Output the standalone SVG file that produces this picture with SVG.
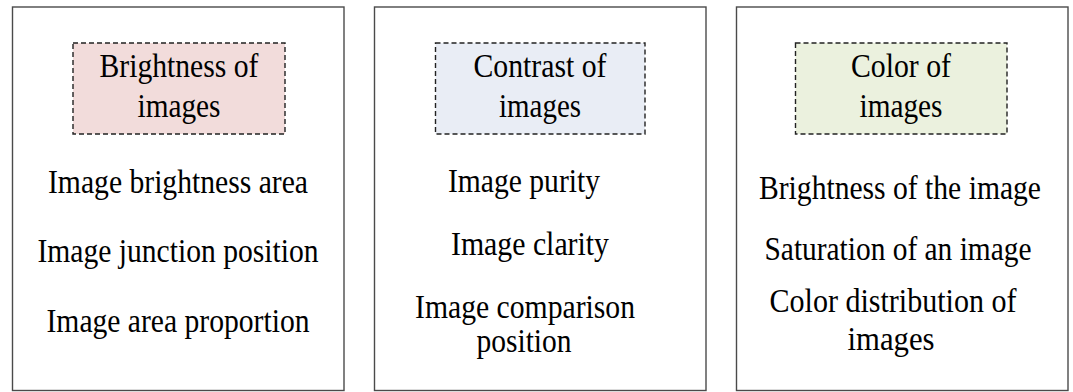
<svg xmlns="http://www.w3.org/2000/svg" width="1073" height="392" viewBox="0 0 1073 392">
<style>
.panel{fill:#fff;stroke:#4a4a4a;stroke-width:1.4}
.head{stroke:#222;stroke-width:1.4;stroke-dasharray:5,3}
text{font-family:"Liberation Serif","Times New Roman",serif;font-size:33px;fill:#000;text-anchor:middle}
</style>
<rect width="1073" height="392" fill="#fff"/>
<g id="panel-brightness">
<rect class="panel" x="12.5" y="7" width="331.5" height="383.5"/>
<rect class="head" x="73" y="43" width="212" height="91" fill="#f2dcdb"/>
<text x="179" y="77" textLength="159" lengthAdjust="spacingAndGlyphs">Brightness of</text>
<text x="179" y="117" textLength="83" lengthAdjust="spacingAndGlyphs">images</text>
<text x="178" y="193" textLength="260" lengthAdjust="spacingAndGlyphs">Image brightness area</text>
<text x="178" y="262" textLength="281" lengthAdjust="spacingAndGlyphs">Image junction position</text>
<text x="178" y="332" textLength="263" lengthAdjust="spacingAndGlyphs">Image area proportion</text>
</g>
<g id="panel-contrast">
<rect class="panel" x="374.5" y="7" width="331.5" height="383.5"/>
<rect class="head" x="435.5" y="43" width="209.5" height="91" fill="#e9edf5"/>
<text x="540" y="77" textLength="133" lengthAdjust="spacingAndGlyphs">Contrast of</text>
<text x="540" y="117" textLength="82" lengthAdjust="spacingAndGlyphs">images</text>
<text x="524" y="192" textLength="152" lengthAdjust="spacingAndGlyphs">Image purity</text>
<text x="530" y="255" textLength="158" lengthAdjust="spacingAndGlyphs">Image clarity</text>
<text x="525" y="318" textLength="220" lengthAdjust="spacingAndGlyphs">Image comparison</text>
<text x="524" y="352" textLength="95" lengthAdjust="spacingAndGlyphs">position</text>
</g>
<g id="panel-color">
<rect class="panel" x="736.5" y="7" width="331.5" height="383.5"/>
<rect class="head" x="795.5" y="43" width="211.5" height="91" fill="#ebf1de"/>
<text x="901" y="77" textLength="100" lengthAdjust="spacingAndGlyphs">Color of</text>
<text x="901" y="117" textLength="83" lengthAdjust="spacingAndGlyphs">images</text>
<text x="900" y="199" textLength="282" lengthAdjust="spacingAndGlyphs">Brightness of the image</text>
<text x="898" y="260" textLength="267" lengthAdjust="spacingAndGlyphs">Saturation of an image</text>
<text x="893" y="312" textLength="247" lengthAdjust="spacingAndGlyphs">Color distribution of</text>
<text x="891" y="350" textLength="87" lengthAdjust="spacingAndGlyphs">images</text>
</g>
<g id="connectors"/>
</svg>
